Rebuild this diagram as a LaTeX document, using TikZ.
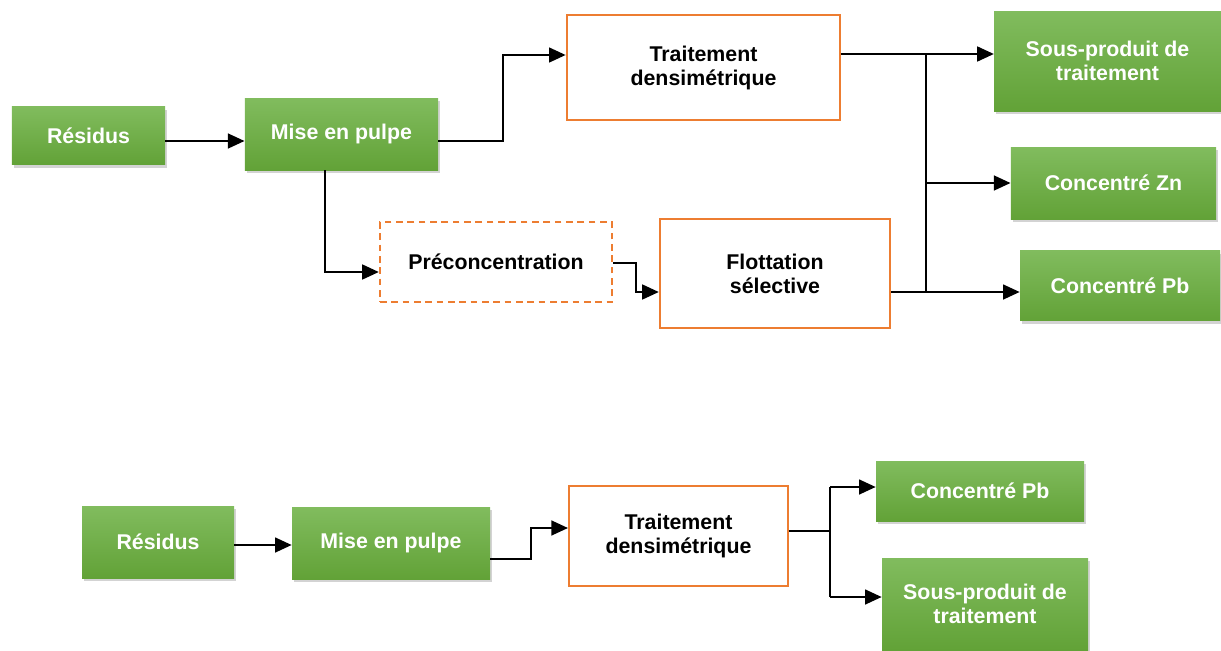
\documentclass[tikz,border=0pt]{standalone}
\usepackage{fontspec}
\setmainfont{Liberation Sans}
\usetikzlibrary{arrows.meta,shadows}

\definecolor{vertHaut}{RGB}{129,188,94}
\definecolor{vertBas}{RGB}{98,162,55}
\definecolor{orangeBord}{RGB}{237,125,49}

\tikzset{
    produit/.style={top color=vertHaut, bottom color=vertBas, draw=none, text=white,
        font=\fontsize{16}{18}\selectfont\bfseries, align=center, inner sep=0pt,
        drop shadow={shadow xshift=1.5pt, shadow yshift=-2.5pt, opacity=0.35}},
    procede/.style={draw=orangeBord, line width=1.7pt, fill=white, text=black,
        font=\fontsize{16}{18}\selectfont\bfseries, align=center, inner sep=0pt},
    fleche/.style={-{Triangle[length=12.5pt,width=11pt]}, line width=1.9pt},
    trait/.style={line width=1.9pt}
}

\begin{document}
\begin{tikzpicture}[x=0.75pt,y=0.75pt,yscale=-1,xscale=1]
        \useasboundingbox (0,0) rectangle (1221,650);

        %Schéma 1
        % Text Node
        \node [produit, minimum width=115pt, minimum height=44pt] (res1) at (88.5,135.5) {Résidus};
        % Text Node
        \node [produit, minimum width=145pt, minimum height=54pt] (mise1) at (341.5,134) {Mise en pulpe};
        % Text Node
        \node [procede, minimum width=205pt, minimum height=79pt] (trait1) at (703.5,67.5) {Traitement\\densimétrique};
        % Text Node
        \node [procede, dash pattern=on 5pt off 3.5pt, minimum width=174pt, minimum height=60pt] (precon) at (496,262) {Préconcentration};
        % Text Node
        \node [procede, minimum width=172.5pt, minimum height=82pt] (flott) at (775,273.5) {Flottation\\sélective};
        % Text Node
        \node [produit, minimum width=170pt, minimum height=75pt] (sous1) at (1107.5,61) {Sous-produit de\\traitement};
        % Text Node
        \node [produit, minimum width=154pt, minimum height=54pt] (zn) at (1113.5,183) {Concentré Zn};
        % Text Node
        \node [produit, minimum width=150pt, minimum height=53pt] (pb1) at (1120,285.5) {Concentré Pb};

        %Coudes
        \coordinate (c1) at (503,141);
        \coordinate (c2) at (503,55);
        \coordinate (c3) at (325,272);
        \coordinate (c4) at (636,263);
        \coordinate (c5) at (636,292);
        \coordinate (bh) at (926,54);
        \coordinate (bz) at (926,183);
        \coordinate (bb) at (926,292);

        %Straight Lines
        \draw [fleche] (res1.east |- c1) -- (mise1.west |- c1);
        \draw [fleche] (mise1.east |- c1) -- (c1) -- (c2) -- (trait1.west |- c2);
        \draw [fleche] (mise1.south -| c3) -- (c3) -- (precon.west |- c3);
        \draw [fleche] (precon.east |- c4) -- (c4) -- (c5) -- (flott.west |- c5);
        \draw [trait] (trait1.east |- bh) -- (bh) -- (bb);
        \draw [trait] (flott.east |- bb) -- (bb);
        \draw [fleche] (bh) -- (sous1.west |- bh);
        \draw [fleche] (bz) -- (zn.west |- bz);
        \draw [fleche] (bb) -- (pb1.west |- bb);

        %Schéma 2
        % Text Node
        \node [produit, minimum width=114pt, minimum height=54pt] (res2) at (158,542) {Résidus};
        % Text Node
        \node [produit, minimum width=148.5pt, minimum height=54pt] (mise2) at (391,543) {Mise en pulpe};
        % Text Node
        \node [procede, minimum width=164pt, minimum height=75pt] (trait2) at (678.5,536) {Traitement\\densimétrique};
        % Text Node
        \node [produit, minimum width=156pt, minimum height=45pt] (pb2) at (980,491) {Concentré Pb};
        % Text Node
        \node [produit, minimum width=154.5pt, minimum height=69pt] (sous2) at (985,604) {Sous-produit de\\traitement};

        %Coudes
        \coordinate (d1) at (264,545);
        \coordinate (d2) at (531,559);
        \coordinate (d3) at (531,528);
        \coordinate (e0) at (830,531);
        \coordinate (e1) at (830,487);
        \coordinate (e2) at (830,597);

        %Straight Lines
        \draw [fleche] (res2.east |- d1) -- (mise2.west |- d1);
        \draw [fleche] (mise2.east |- d2) -- (d2) -- (d3) -- (trait2.west |- d3);
        \draw [trait] (trait2.east |- e0) -- (e0);
        \draw [trait] (e1) -- (e2);
        \draw [fleche] (e1) -- (pb2.west |- e1);
        \draw [fleche] (e2) -- (sous2.west |- e2);

\end{tikzpicture}
\end{document}
